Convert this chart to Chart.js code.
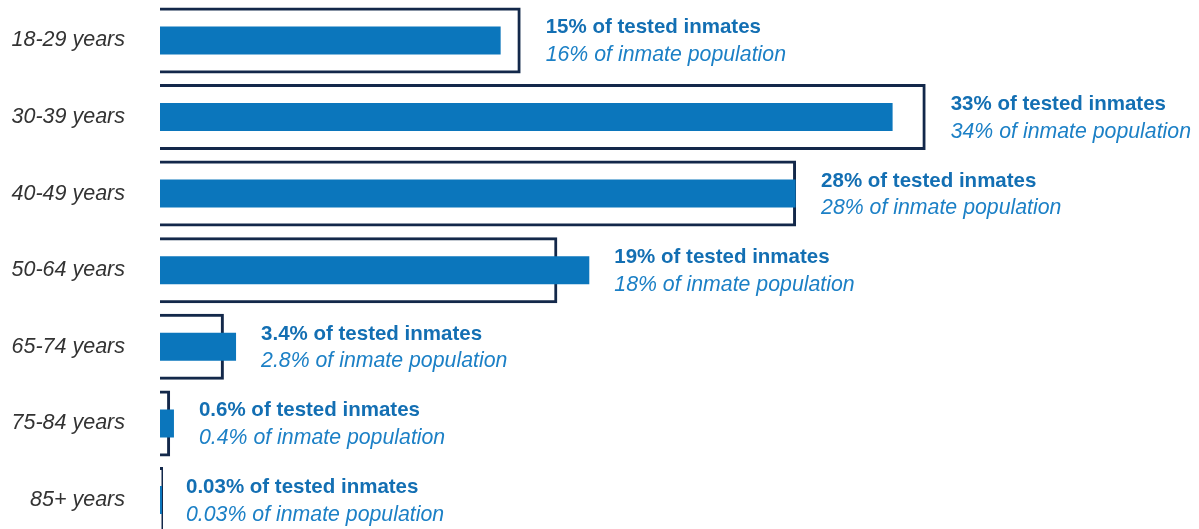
<!DOCTYPE html>
<html><head><meta charset="utf-8">
<script src="https://cdn.jsdelivr.net/npm/chart.js@4"></script>
<style>html,body{margin:0;padding:0;overflow:hidden;background:#fff}</style>
</head><body>
<canvas id="c" width="1199" height="540"></canvas>
<script>
const ageGroups = ['18-29 years', '30-39 years', '40-49 years', '50-64 years', '65-74 years', '75-84 years', '85+ years'];
const testedShare = [15.14, 32.56, 28.25, 19.08, 3.38, 0.62, 0.03];
const populationShare = [16.03, 34.03, 28.27, 17.66, 2.84, 0.45, 0.03];
const testedLabels = ['15%', '33%', '28%', '19%', '3.4%', '0.6%', '0.03%'];
const populationLabels = ['16%', '34%', '28%', '18%', '2.8%', '0.4%', '0.03%'];

const FONT = '"Liberation Sans", Arial, sans-serif';

const valueLabels = {
  id: 'valueLabels',
  afterDatasetsDraw(chart) {
    const ctx = chart.ctx, xs = chart.scales.x, ys = chart.scales.y;
    ctx.save();
    ctx.textAlign = 'left';
    ctx.textBaseline = 'alphabetic';
    ageGroups.forEach((g, i) => {
      const end = Math.max(xs.getPixelForValue(Math.max(testedShare[i], populationShare[i])), xs.getPixelForValue(0) + 1);
      const px = end + 25;
      const cy = ys.getPixelForValue(i);
      ctx.font = 'bold 20.5px ' + FONT;
      ctx.fillStyle = '#136fb3';
      ctx.fillText(testedLabels[i] + ' of tested inmates', px, cy - 7);
      ctx.font = 'italic 21.3px ' + FONT;
      ctx.fillStyle = '#1c80c6';
      ctx.fillText(populationLabels[i] + ' of inmate population', px, cy + 20.6);
    });
    ctx.restore();
  }
};

new Chart(document.getElementById('c'), {
  type: 'bar',
  data: {
    labels: ageGroups,
    datasets: [
      {
        label: 'Tested inmates',
        data: testedShare,
        backgroundColor: '#0b76bc',
        borderWidth: 0,
        barPercentage: 0.365,
        categoryPercentage: 1,
        grouped: false,
        minBarLength: 2
      },
      {
        label: 'Inmate population',
        data: populationShare,
        backgroundColor: 'rgba(0,0,0,0)',
        borderColor: '#13284a',
        borderWidth: 3,
        borderSkipped: 'start',
        barPercentage: 0.862,
        categoryPercentage: 1,
        grouped: false,
        minBarLength: 3
      }
    ]
  },
  options: {
    indexAxis: 'y',
    responsive: false,
    animation: false,
    layout: { padding: { top: 2.1, bottom: 1.7, left: 0, right: 139 } },
    plugins: { legend: { display: false }, tooltip: { enabled: false } },
    scales: {
      x: { min: 0, max: 40, display: false },
      y: {
        grid: { display: true, drawOnChartArea: false, drawTicks: true, tickLength: 35, color: 'rgba(0,0,0,0)' },
        border: { display: false },
        ticks: {
          padding: 0,
          color: '#333333',
          font: { family: FONT, size: 21.5, style: 'italic' }
        },
        afterFit(scale) { scale.width = 160; scale.paddingTop = 0; scale.paddingBottom = 0; }
      }
    }
  },
  plugins: [valueLabels]
});
</script>
</body></html>
